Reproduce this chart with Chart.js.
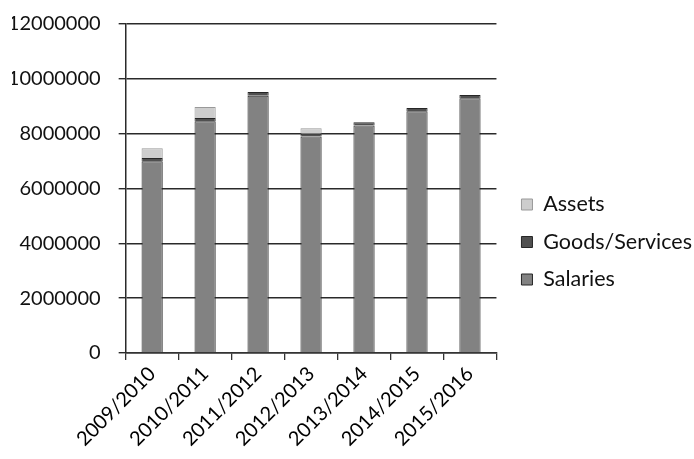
<!DOCTYPE html>
<html>
<head>
<meta charset="utf-8">
<script src="https://cdn.jsdelivr.net/npm/chart.js@4/dist/chart.umd.min.js"></script>
<style>
html,body{margin:0;padding:0;background:#fff;}
#wrap{width:694px;height:459px;}
</style>
</head>
<body>
<div id="wrap"><canvas id="c" width="694" height="459"></canvas></div>
<script>
const categories = ["2009/2010","2010/2011","2011/2012","2012/2013","2013/2014","2014/2015","2015/2016"];
const salaries = [6990000, 8450000, 9380000, 7900000, 8300000, 8820000, 9290000];
const goodsServices = [120000, 120000, 140000, 100000, 120000, 120000, 120000];
const assets = [360000, 400000, 0, 200000, 0, 0, 0];
const yTicks = [0, 2000000, 4000000, 6000000, 8000000, 10000000, 12000000];

const FONT = "Lato";

const legendTweak = {
  id: 'legendTweak',
  afterInit(chart) {
    const lg = chart.legend;
    if (!lg || lg._tweaked) return;
    const orig = lg.fit;
    lg.fit = function () { orig.call(this); this.width -= 8; };
    lg._tweaked = true;
  },
  afterLayout(chart) {
    const lg = chart.legend;
    if (!lg) return;
    lg.top += 3.5;
    lg.bottom += 3.5;
  }
};

new Chart(document.getElementById('c'), {
  type: 'bar',
  data: {
    labels: categories,
    datasets: [
      {label: 'Salaries', data: salaries, backgroundColor: '#828282', borderColor: '#262626', borderWidth: 1},
      {label: 'Goods/Services', data: goodsServices, backgroundColor: '#505050', borderColor: '#262626', borderWidth: 1},
      {label: 'Assets', data: assets, backgroundColor: '#cdcdcd', borderColor: '#999', borderWidth: 1}
    ]
  },
  plugins: [legendTweak],
  options: {
    responsive: false,
    animation: false,
    layout: {padding: {top: 24, right: 0, left: 12, bottom: 6}},
    datasets: {bar: {barPercentage: 0.4, categoryPercentage: 1.0}},
    plugins: {
      legend: {
        position: 'right',
        reverse: true,
        maxWidth: 300,
        labels: {
          font: {family: FONT, size: 21.5},
          color: '#111',
          boxWidth: 11,
          boxHeight: 11,
          padding: 16
        }
      },
      tooltip: {enabled: false}
    },
    scales: {
      x: {
        stacked: true,
        grid: {display: true, drawOnChartArea: false, offset: true, color: '#333', lineWidth: 1.3, tickLength: 7},
        border: {color: '#333', width: 1.5},
        ticks: {font: {family: FONT, size: 20}, color: '#000', maxRotation: 45, minRotation: 45, padding: 2}
      },
      y: {
        stacked: true,
        min: 0,
        max: 12000000,
        afterBuildTicks: (axis) => { axis.ticks = yTicks.map(v => ({value: v})); },
        afterFit: (axis) => { axis.paddingTop = 0; axis.paddingBottom = 0; },
        grid: {color: '#2a2a2a', lineWidth: 1.4, tickLength: 7},
        border: {color: '#2a2a2a', width: 1.5},
        ticks: {font: {family: FONT, size: 20}, color: '#111', padding: 18, callback: (v) => String(v)}
      },
      gap: {
        type: 'linear',
        position: 'right',
        display: true,
        grid: {display: false, drawOnChartArea: false},
        border: {display: false},
        ticks: {display: false},
        afterFit: (axis) => { axis.width = 9; axis.paddingTop = 0; axis.paddingBottom = 0; }
      }
    }
  }
});
</script>
</body>
</html>
